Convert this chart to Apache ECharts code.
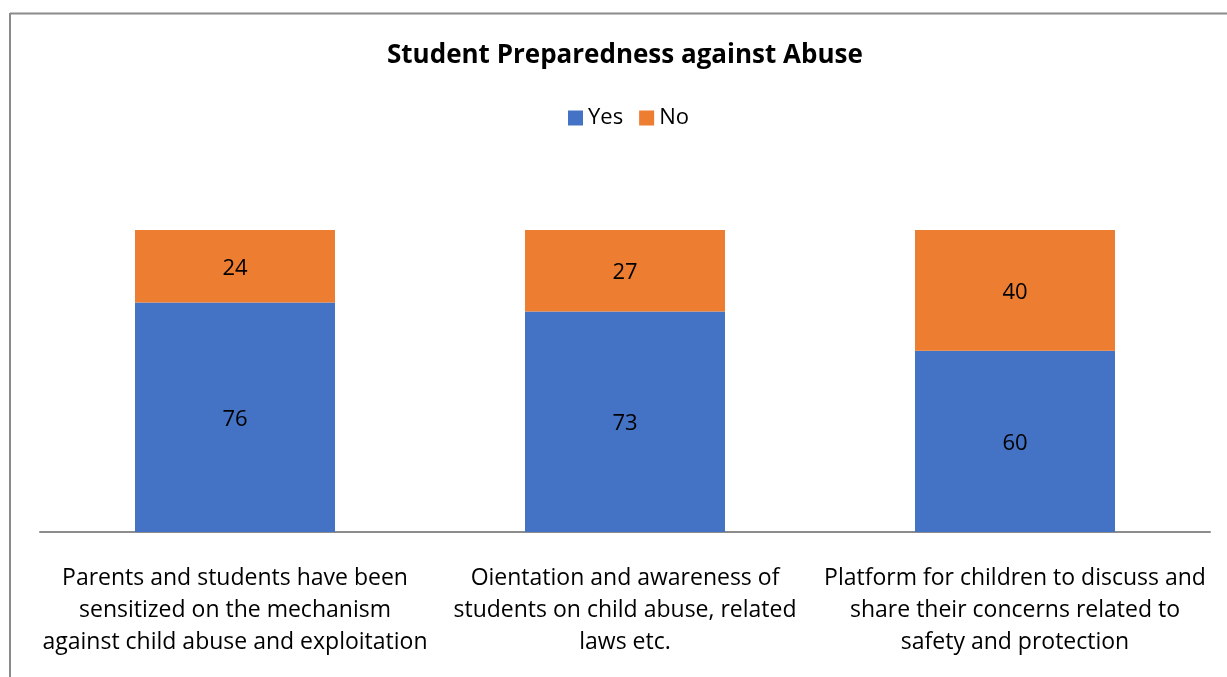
<!DOCTYPE html>
<html>
<head>
<meta charset="utf-8">
<script src="https://cdn.jsdelivr.net/npm/echarts@6/dist/echarts.min.js"></script>
<style>
  html, body { margin: 0; padding: 0; background: #fff; }
  #chart { width: 1227px; height: 677px; }
</style>
</head>
<body>
<div id="chart"></div>
<script>
const categories = [
  'Parents and students have been\nsensitized on the mechanism\nagainst child abuse and exploitation',
  'Oientation and awareness of\nstudents on child abuse, related\nlaws etc.',
  'Platform for children to discuss and\nshare their concerns related to\nsafety and protection'
];
const yesValues = [76, 73, 60];
const noValues = [24, 27, 40];

const FONT = 'Open Sans';
const chart = echarts.init(document.getElementById('chart'));

chart.setOption({
  backgroundColor: '#ffffff',
  animation: false,
  title: {
    text: 'Student Preparedness against Abuse',
    left: 382,
    top: 38,
    textStyle: { fontFamily: FONT, fontSize: 26, fontWeight: 'bold', color: '#000' }
  },
  legend: {
    top: 102,
    left: 563,
    itemWidth: 15,
    itemHeight: 15,
    itemGap: 16,
    icon: 'rect',
    textStyle: { fontFamily: FONT, fontSize: 22, color: '#000' },
    data: ['Yes', 'No']
  },
  grid: { left: 40, right: 17, top: 230, bottom: 145 },
  xAxis: {
    type: 'category',
    data: categories,
    axisLine: { lineStyle: { color: '#8c8c8c', width: 2 } },
    axisTick: { show: false },
    axisLabel: {
      interval: 0,
      margin: 30,
      fontFamily: FONT,
      fontSize: 23,
      lineHeight: 32,
      color: '#000'
    }
  },
  yAxis: {
    type: 'value',
    min: 0,
    max: 100,
    show: false,
    splitLine: { show: false }
  },
  graphic: [
    { type: 'line', shape: { x1: 10, y1: 13.5, x2: 1227, y2: 13.5 }, style: { stroke: '#8a8a8a', lineWidth: 2 } },
    { type: 'line', shape: { x1: 10, y1: 13, x2: 10, y2: 677 }, style: { stroke: '#8a8a8a', lineWidth: 2 } }
  ],
  series: [
    {
      name: 'Yes',
      type: 'bar',
      stack: 'total',
      barWidth: 200,
      data: yesValues,
      itemStyle: { color: '#4472c4' },
      label: { show: true, position: 'inside', offset: [0, 2], fontFamily: FONT, fontSize: 22, color: '#000' }
    },
    {
      name: 'No',
      type: 'bar',
      stack: 'total',
      barWidth: 200,
      data: noValues,
      itemStyle: { color: '#ed7d31' },
      label: { show: true, position: 'inside', offset: [0, 2], fontFamily: FONT, fontSize: 22, color: '#000' }
    }
  ]
});
</script>
</body>
</html>
